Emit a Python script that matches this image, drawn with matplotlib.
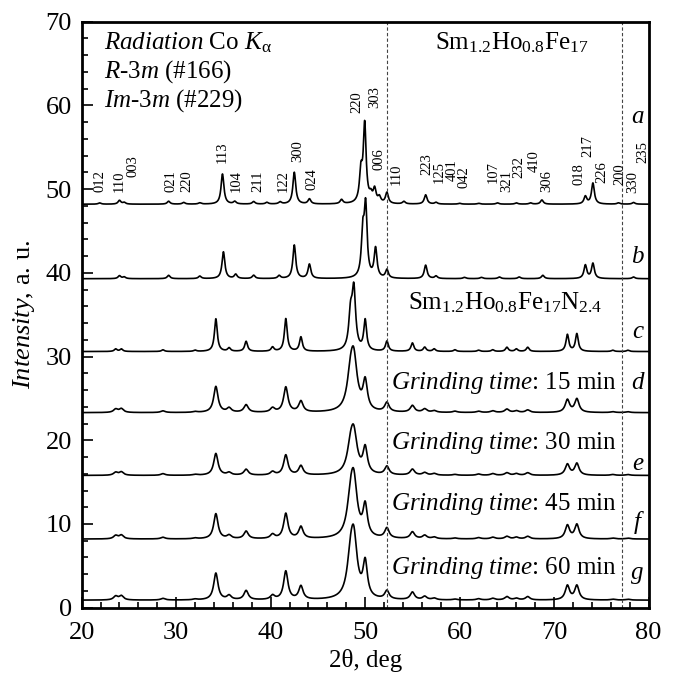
import numpy as np
import matplotlib.pyplot as plt
from matplotlib.ticker import MultipleLocator

plt.rcParams['font.family'] = 'Liberation Serif'
plt.rcParams['mathtext.fontset'] = 'custom'
plt.rcParams['mathtext.rm'] = 'Liberation Serif'
plt.rcParams['mathtext.it'] = 'Liberation Serif:italic'

# 2theta grid
two_theta = np.arange(20, 80.001, 0.02)

# Sm1.2Ho0.8Fe17, pattern a: peak positions (deg) and heights (a.u.)
pos_a = [21.9, 24.0, 24.5, 29.2, 30.8, 32.5, 34.9, 36.2, 38.2, 39.6, 41.0, 42.5, 44.1,
         47.5, 49.55, 49.95, 50.6, 51.0, 51.5, 52.3, 54.1, 56.4, 57.5, 60.0, 62.0,
         64.0, 66.0, 67.5, 68.7, 73.3, 74.1, 76.8, 78.4]
h_a = [0.15, 0.45, 0.2, 0.35, 0.2, 0.15, 3.6, 0.3, 0.3, 0.2, 0.25, 3.8, 0.6,
       0.5, 3.5, 9.3, 0.8, 1.6, 0.7, 1.3, 0.3, 1.1, 0.2, 0.1, 0.1,
       0.15, 0.15, 0.15, 0.5, 0.9, 2.5, 0.15, 0.2]

# pattern b
pos_b = [24.0, 24.5, 29.2, 32.5, 35.0, 36.3, 38.2, 40.9, 42.5, 44.1, 49.75, 50.05,
         51.1, 52.3, 56.4, 57.5, 60.5, 62.3, 64.2, 66.3, 68.8, 73.3, 74.1, 78.4]
h_b = [0.35, 0.2, 0.4, 0.3, 3.2, 0.5, 0.4, 0.35, 4.0, 1.7, 5.0, 8.2,
       3.5, 1.0, 1.6, 0.3, 0.15, 0.15, 0.2, 0.2, 0.4, 1.6, 1.8, 0.2]

# Sm1.2Ho0.8Fe17N2.4 patterns c-g share peak positions
pos_n = [23.6, 24.2, 28.6, 32.0, 34.2, 35.6, 37.4, 40.2, 41.6, 43.2, 48.45, 48.8,
         50.0, 52.3, 55.0, 56.3, 57.3, 59.5, 62.0, 63.5, 65.0, 66.0, 67.2, 71.4,
         72.4, 76.2, 77.8]
h_c = [0.3, 0.3, 0.2, 0.15, 3.9, 0.4, 1.2, 0.5, 3.9, 1.7, 4.0, 7.0,
       3.6, 1.2, 1.0, 0.5, 0.3, 0.2, 0.15, 0.2, 0.5, 0.3, 0.5, 2.0,
       2.1, 0.15, 0.15]
h_d = [0.4, 0.45, 0.2, 0.1, 3.1, 0.5, 0.9, 0.5, 3.0, 1.3, 3.5, 5.5,
       3.4, 1.1, 0.8, 0.4, 0.2, 0.15, 0.15, 0.2, 0.4, 0.2, 0.3, 1.5,
       1.6, 0.1, 0.1]
h_e = [0.35, 0.4, 0.2, 0.1, 2.6, 0.3, 0.7, 0.4, 2.4, 1.1, 2.6, 4.3,
       3.0, 1.0, 0.7, 0.3, 0.2, 0.1, 0.15, 0.2, 0.3, 0.2, 0.3, 1.3,
       1.4, 0.1, 0.1]
h_f = [0.4, 0.45, 0.2, 0.1, 3.0, 0.4, 0.9, 0.5, 3.0, 1.4, 3.6, 6.0,
       3.6, 1.2, 0.8, 0.4, 0.2, 0.1, 0.15, 0.2, 0.3, 0.2, 0.3, 1.6,
       1.7, 0.1, 0.1]
h_g = [0.45, 0.5, 0.2, 0.1, 3.2, 0.5, 1.1, 0.5, 3.4, 1.6, 3.8, 6.4,
       4.1, 1.0, 0.9, 0.4, 0.2, 0.1, 0.15, 0.2, 0.4, 0.2, 0.4, 1.7,
       1.7, 0.1, 0.1]

# vertical offsets of the patterns
offsets = {'a': 48.2, 'b': 39.3, 'c': 30.6, 'd': 23.3, 'e': 15.8, 'f': 8.2, 'g': 0.9}
curve_letters = ['a', 'b', 'c', 'd', 'e', 'f', 'g']
letter_y = [58.6, 41.9, 32.9, 26.8, 17.2, 10.2, 4.1]

# Miller indices (label, x, y of label bottom)
hkl_labels = ['012', '110', '003', '021', '220', '113', '104', '211', '122', '300', '024',
              '220', '303', '006', '110', '223', '125', '401', '042', '107', '321', '232',
              '410', '306', '018', '217', '226', '200', '330', '235']
hkl_x = [21.9, 24.0, 25.4, 29.4, 31.1, 34.9, 36.4, 38.6, 41.3, 42.9, 44.4,
         49.1, 51.0, 51.5, 53.3, 56.5, 57.8, 59.2, 60.5, 63.5, 65.0, 66.3,
         67.9, 69.2, 72.6, 73.6, 75.0, 76.9, 78.3, 79.4]
hkl_y = [49.6, 49.6, 51.4, 49.6, 49.6, 53.1, 49.6, 49.6, 49.6, 53.2, 49.9,
         59.1, 59.7, 52.3, 50.5, 51.7, 50.7, 51.0, 50.1, 50.7, 49.6, 51.3,
         52.0, 49.6, 50.5, 53.8, 50.7, 50.5, 49.5, 53.1]

dashed_x = [52.3, 77.15]


def pattern(pos, heights, width):
    y = np.zeros_like(two_theta)
    for p, h in zip(pos, heights):
        w = width(p)
        y += h / (1 + (2 * (two_theta - p) / w) ** 2)
    return y


def sharp(p):
    return 0.36


def sharp_n(p):
    return 0.45 if 48 < p < 49 else 0.36


def broad(p):
    return 0.85 if 48 < p < 49 else 0.55


profiles = {
    'a': pattern(pos_a, h_a, sharp),
    'b': pattern(pos_b, h_b, sharp),
    'c': pattern(pos_n, h_c, sharp_n),
    'd': pattern(pos_n, h_d, broad),
    'e': pattern(pos_n, h_e, broad),
    'f': pattern(pos_n, h_f, broad),
    'g': pattern(pos_n, h_g, broad),
}

fig = plt.figure(figsize=(6.75, 6.79), dpi=100)
ax = fig.add_axes([0.121, 0.105, 0.840, 0.863])

for k in curve_letters:
    ax.plot(two_theta, profiles[k] + offsets[k], color='black', lw=1.2)

for xv in dashed_x:
    ax.axvline(xv, color='#444444', lw=0.8, ls=(0, (3, 2)))

for lab, x, y in zip(hkl_labels, hkl_x, hkl_y):
    ax.text(x, y, lab, rotation=90, ha='center', va='bottom', fontsize=10.5)

for lab, y in zip(curve_letters, letter_y):
    ax.text(78.8, y, lab, ha='center', va='center', fontsize=18, style='italic')

ax.text(22.4, 67.5, r'$\it{Radiation}$ Co $K_{\mathrm{\alpha}}$', fontsize=18, va='center')
ax.text(22.4, 64.0, r'$\it{R}$-3$\it{m}$ (#166)', fontsize=18, va='center')
ax.text(22.4, 60.6, r'$\it{Im}$-3$\it{m}$ (#229)', fontsize=18, va='center')
ax.text(65.5, 67.5, r'Sm$_{1.2}$Ho$_{0.8}$Fe$_{17}$', fontsize=18, ha='center', va='center')
ax.text(64.8, 36.4, r'Sm$_{1.2}$Ho$_{0.8}$Fe$_{17}$N$_{2.4}$', fontsize=18,
        ha='center', va='center')
for t, y in zip([15, 30, 45, 60], [26.8, 19.7, 12.4, 4.7]):
    ax.text(64.7, y, r'$\it{Grinding\ time}$: %d min' % t, fontsize=18,
            ha='center', va='center')

ax.set_xlim(20, 80)
ax.set_ylim(0, 70)
ax.xaxis.set_major_locator(MultipleLocator(10))
ax.xaxis.set_minor_locator(MultipleLocator(2))
ax.yaxis.set_major_locator(MultipleLocator(10))
ax.yaxis.set_minor_locator(MultipleLocator(2))
ax.tick_params(which='both', direction='in', top=False, right=False, labelsize=19, width=1.2)
ax.tick_params(which='major', length=8)
ax.tick_params(which='minor', length=4)
ax.tick_params(axis='x', which='major', pad=10)
ax.tick_params(axis='y', which='major', pad=7)
for s in ax.spines.values():
    s.set_linewidth(2)

ax.set_xlabel('2θ, deg', fontsize=18, labelpad=4)
ax.set_ylabel(r'$\it{Intensity}$, a. u.', fontsize=19, labelpad=6)

fig.savefig('out.png', dpi=100)
